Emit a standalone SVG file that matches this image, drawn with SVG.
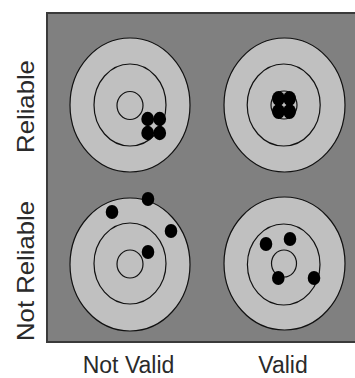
<svg xmlns="http://www.w3.org/2000/svg" width="355" height="378" viewBox="0 0 355 378">
<style>
.bg{fill:#808080;stroke:#3a3a3a;stroke-width:2}
.outer{fill:#c0c0c0;stroke:#111;stroke-width:1.2}
.ring{fill:none;stroke:#111;stroke-width:1.2}
.dot{fill:#000}
.lbl{font-family:"Liberation Sans",Arial,sans-serif;font-size:23px;fill:#2a2a2a;text-anchor:middle}
</style>
<rect width="355" height="378" fill="#fff"/>
<rect class="bg" x="47" y="13" width="320" height="329"/>
<g id="target-reliable-not-valid">
<ellipse class="outer" cx="130" cy="105" rx="60" ry="67"/>
<ellipse class="ring" cx="130" cy="105" rx="36" ry="41"/>
<ellipse class="ring" cx="130" cy="105.5" rx="13" ry="14"/>
<ellipse class="dot" cx="147.7" cy="119" rx="6.4" ry="7.2"/>
<ellipse class="dot" cx="159.7" cy="119" rx="6.4" ry="7.2"/>
<ellipse class="dot" cx="147.7" cy="133" rx="6.4" ry="7.2"/>
<ellipse class="dot" cx="159.7" cy="133" rx="6.4" ry="7.2"/>
</g>
<g id="target-reliable-valid">
<ellipse class="outer" cx="284.5" cy="105" rx="60.5" ry="67"/>
<ellipse class="ring" cx="283.7" cy="105" rx="36.5" ry="41"/>
<ellipse class="ring" cx="284" cy="105" rx="13" ry="14"/>
<ellipse class="dot" cx="278.5" cy="98.5" rx="6.5" ry="7.5"/>
<ellipse class="dot" cx="289.5" cy="98.5" rx="6.5" ry="7.5"/>
<ellipse class="dot" cx="278.5" cy="111.5" rx="6.5" ry="7.5"/>
<ellipse class="dot" cx="289.5" cy="111.5" rx="6.5" ry="7.5"/>
</g>
<g id="target-not-reliable-not-valid">
<ellipse class="outer" cx="130" cy="264.5" rx="60" ry="66.5"/>
<ellipse class="ring" cx="130" cy="263.5" rx="36" ry="40.5"/>
<ellipse class="ring" cx="130" cy="264" rx="13" ry="14"/>
<ellipse class="dot" cx="112" cy="212" rx="6.3" ry="7"/>
<ellipse class="dot" cx="148" cy="199" rx="6.3" ry="7"/>
<ellipse class="dot" cx="171" cy="231" rx="6.3" ry="7"/>
<ellipse class="dot" cx="148" cy="252" rx="6.3" ry="7"/>
</g>
<g id="target-not-reliable-valid">
<ellipse class="outer" cx="284.5" cy="263.5" rx="60.5" ry="66.5"/>
<ellipse class="ring" cx="283.7" cy="264.5" rx="36.3" ry="40.5"/>
<ellipse class="ring" cx="284" cy="263.5" rx="12.5" ry="13.5"/>
<ellipse class="dot" cx="266" cy="244" rx="6.3" ry="7"/>
<ellipse class="dot" cx="290" cy="239" rx="6.3" ry="7"/>
<ellipse class="dot" cx="278.3" cy="278" rx="6.3" ry="7"/>
<ellipse class="dot" cx="314" cy="278" rx="6.3" ry="7"/>
</g>
<g id="labels">
<text class="lbl" transform="translate(34,106.5) scale(1,1.117) rotate(-90)">Reliable</text>
<text class="lbl" transform="translate(34,271) scale(1,1.117) rotate(-90)">Not Reliable</text>
<text class="lbl" transform="translate(128.5,373) scale(1,1.05)">Not Valid</text>
<text class="lbl" transform="translate(283,373) scale(1,1.05)">Valid</text>
</g>
</svg>
